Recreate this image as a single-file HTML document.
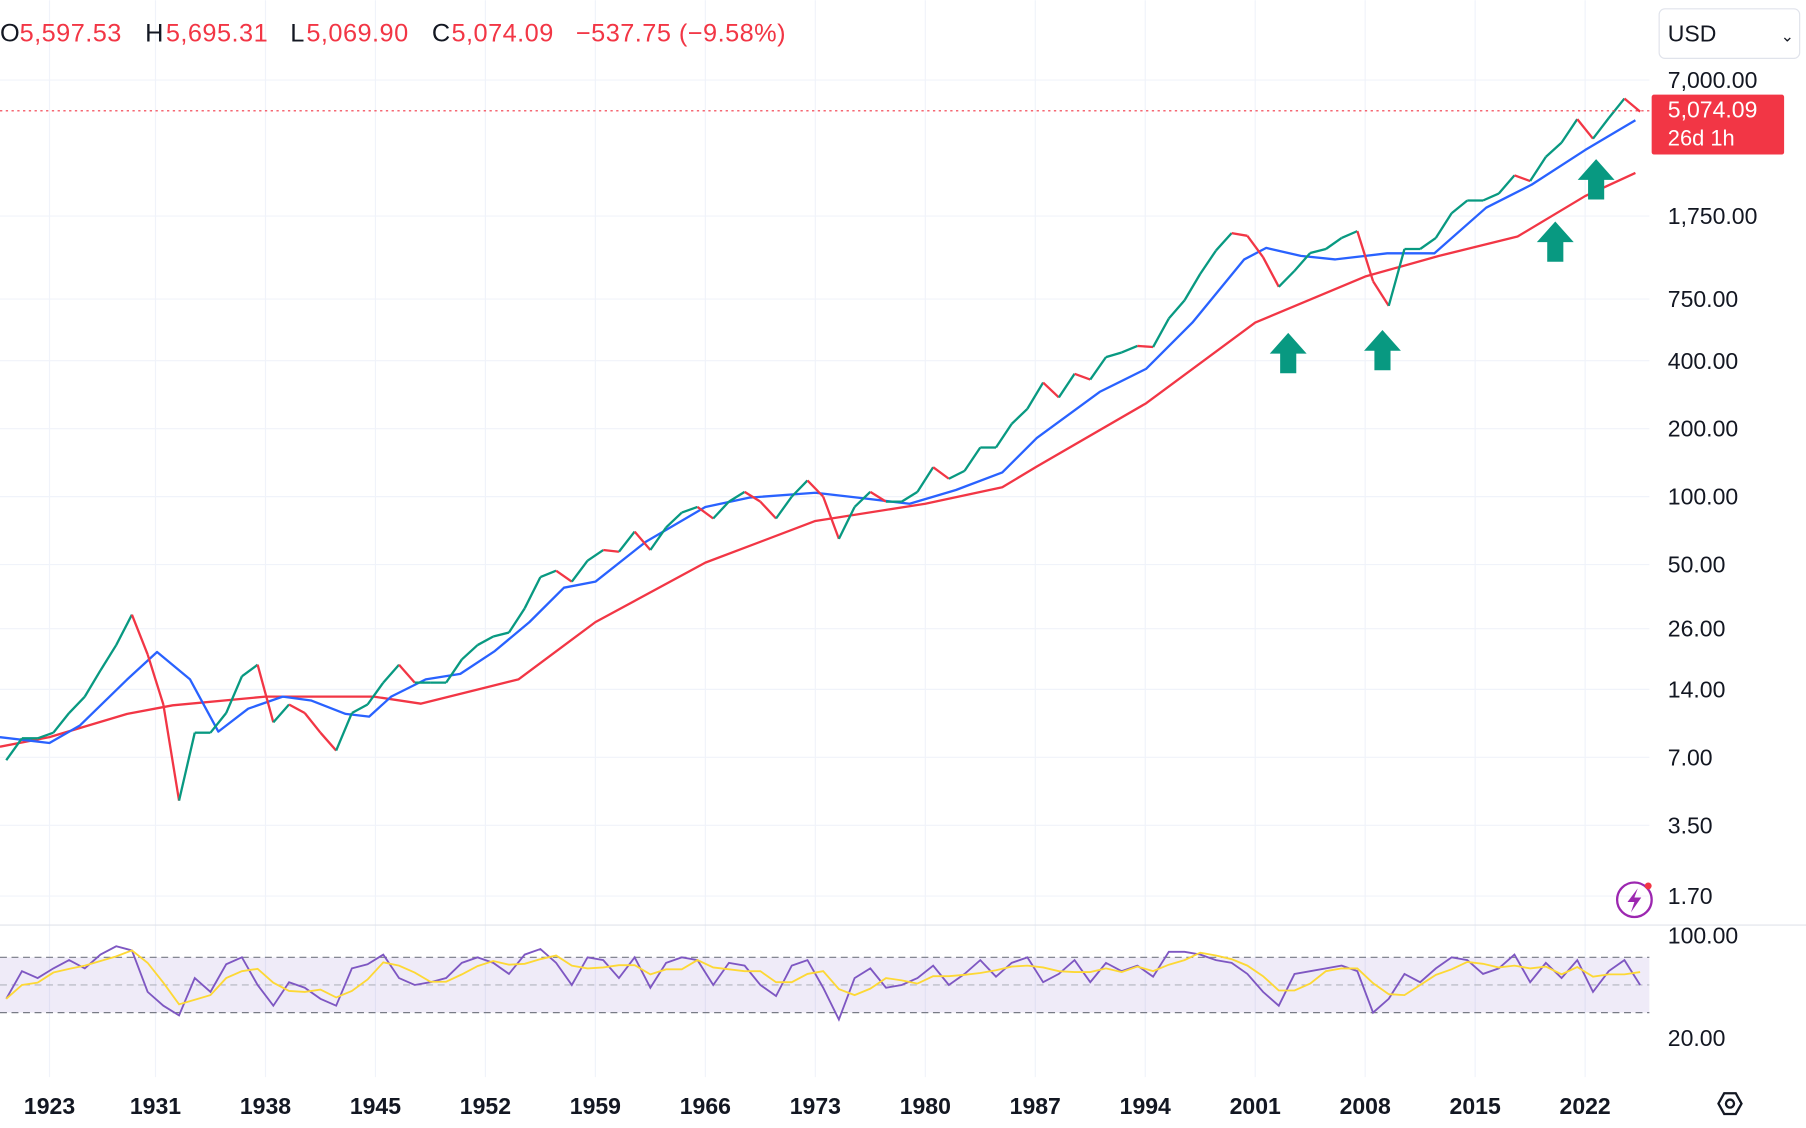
<!DOCTYPE html>
<html><head><meta charset="utf-8"><style>
html,body{margin:0;padding:0;background:#fff;overflow:hidden}
svg{display:block;font-family:"Liberation Sans",sans-serif}
</style></head><body>
<svg id="chart" width="1806" height="1128" viewBox="0 0 1568 979" xmlns="http://www.w3.org/2000/svg">
<rect width="1568" height="979" fill="#fff"/>
<g id="grid"></g>
<line x1="0" y1="803" x2="1568" y2="803" stroke="#e0e3eb" stroke-width="1"/>
<rect x="0" y="831" width="1432" height="48" fill="#7e57c2" fill-opacity="0.12"/>
<line x1="0" y1="831" x2="1432" y2="831" stroke="#787b86" stroke-dasharray="6,4"/>
<line x1="0" y1="855" x2="1432" y2="855" stroke="#b2b5be" stroke-dasharray="6,4"/>
<line x1="0" y1="879" x2="1432" y2="879" stroke="#787b86" stroke-dasharray="6,4"/>
<g id="series"></g>
<line x1="0" y1="96" x2="1432" y2="96" stroke="#f23645" stroke-dasharray="2,3"/>
<g id="labels"></g>
<g font-size="22" letter-spacing="0.4">
<text x="0" y="36" fill="#131722">O</text><text x="17" y="36" fill="#f23645">5,597.53</text>
<text x="126" y="36" fill="#131722">H</text><text x="144" y="36" fill="#f23645">5,695.31</text>
<text x="252" y="36" fill="#131722">L</text><text x="266" y="36" fill="#f23645">5,069.90</text>
<text x="375" y="36" fill="#131722">C</text><text x="392" y="36" fill="#f23645">5,074.09</text>
<text x="500" y="36" fill="#f23645">−537.75 (−9.58%)</text>
</g>
<g><rect x="1440.5" y="7.5" width="122" height="43" rx="5" fill="#fff" stroke="#e0e3eb"/><text x="1448" y="36" font-size="20" fill="#131722">USD</text><text x="1546" y="36" font-size="14" fill="#131722">⌄</text></g>
<g><rect x="1434" y="82" width="115" height="52" rx="2" fill="#f23645"/><text x="1448" y="102" font-size="20" fill="#fff">5,074.09</text><text x="1448" y="126" font-size="19" fill="#fff">26d 1h</text></g>
<g><circle cx="1419" cy="781" r="15" fill="none" stroke="#9c27b0" stroke-width="2"/><path d="M1422 771 L1413 783 L1419 783 L1416 792 L1425 779 L1419 779 Z" fill="#9c27b0"/><circle cx="1431" cy="769" r="3" fill="#f23645"/></g>
<g><polygon points="1492,958 1497,949 1507,949 1512,958 1507,967 1497,967" fill="none" stroke="#131722" stroke-width="2"/><circle cx="1502" cy="958" r="3.5" fill="none" stroke="#131722" stroke-width="2"/></g>
</svg>
<script>
const years = [];
for (let y = 1921; y <= 2025; y++) years.push(y);
const closes = [6.8,8.5,8.5,9,11,13,17,22,30,20,12,4.5,9,9,11,16,18,10,12,11,9,7.5,11,12,15,18,15,15,15,19,22,24,25,32,44,47,42,52,58,57,70,58,73,85,90,80,95,105,95,80,100,118,100,65,90,105,95,95,105,135,120,130,165,165,210,245,320,275,350,330,415,435,465,460,615,740,970,1230,1470,1430,1150,850,1000,1200,1250,1400,1500,900,700,1250,1250,1400,1800,2050,2050,2200,2650,2500,3200,3700,4700,3850,4750,5800,5074];
const fastMaYears = [1921.1,1924.25,1926.2,1929.2,1931.1,1933.2,1935.0,1936.9,1939.1,1940.9,1943.1,1944.6,1946.0,1948.2,1950.4,1952.6,1954.8,1957.0,1959.0,1962.2,1966.0,1968.8,1973.0,1975.7,1979.0,1981.95,1984.9,1987.1,1991.1,1994.05,1997.0,2000.3,2001.7,2003.9,2006.1,2009.4,2012.4,2015.7,2018.6,2022.0,2025.2];
const fastMa = [8.6,8.1,9.7,15.5,20.5,15.5,9.1,11.5,13,12.5,10.9,10.6,13,15.5,16.4,20.7,27.8,39.5,42,63,90,99,104,99,93,107,128,182,291,368,590,1124,1264,1165,1124,1196,1196,1905,2410,3430,4650];
const slowMaYears = [1921.1,1924.25,1929.2,1932.1,1938.0,1944.9,1947.9,1951.9,1954.1,1959.0,1966.0,1973.0,1980.0,1984.9,1987.1,1994.05,2001.0,2008.0,2012.7,2017.7,2022.0,2025.2];
const slowMa = [7.8,8.6,10.9,11.9,13,13,12.1,14.2,15.5,27.8,51,78,93,110,136,259,590,944,1165,1420,2145,2715];
const rsi = [40,60,55,62,68,62,72,78,75,45,35,28,55,45,65,70,50,35,52,48,40,35,62,65,72,55,50,52,55,66,70,66,58,72,76,66,50,70,68,55,70,48,66,70,68,50,66,64,50,42,64,68,48,25,55,62,48,50,55,64,50,58,68,56,66,70,52,58,68,52,66,60,64,56,74,74,72,68,66,58,45,35,58,60,62,64,60,30,40,58,52,62,70,68,58,62,72,52,66,55,68,45,60,68,50];
const priceTicks = [7000,1750,750,400,200,100,50,26,14,7,3.5,1.7];
const priceTickLabels = ["7,000.00","1,750.00","750.00","400.00","200.00","100.00","50.00","26.00","14.00","7.00","3.50","1.70"];
const yearTicks = [1923,1931,1938,1945,1952,1959,1966,1973,1980,1987,1994,2001,2008,2015,2022];
const rsiTickLabels = ["100.00","20.00"];
const arrowYears = [2003.1,2009.1,2020.1,2022.7];
const arrowPrices = [430,443,1340,2530];

const NS = "http://www.w3.org/2000/svg";
const xOf = yr => 135 + (yr - 1931) * 13.64;
const yOf = v => 431 - 59 * Math.log2(v / 100);
const rOf = v => 831 + (70 - v) * 1.2;
function mk(tag, attrs, parent) { const e = document.createElementNS(NS, tag); for (const k in attrs) e.setAttribute(k, attrs[k]); parent.appendChild(e); return e; }
const grid = document.getElementById('grid'), series = document.getElementById('series'), labels = document.getElementById('labels');

priceTicks.forEach((v, i) => {
  const g = mk('line', {x1:0, x2:1432, y1:yOf(v), y2:yOf(v), stroke:'#f0f3fa'}, grid);
  
  
  const t = mk('text', {x:1448, y:yOf(v) + 7, 'font-size':20, fill:'#131722'}, labels);
  t.textContent = priceTickLabels[i];
  
  
});
yearTicks.forEach(yr => {
  const x = yr === 1923 ? 43 : xOf(yr);
  const g = mk('line', {x1:x, x2:x, y1:0, y2:935, stroke:'#f0f3fa'}, grid);
  
  
  const t = mk('text', {x:x, y:967, 'font-size':20, 'font-weight':'bold', fill:'#131722', 'text-anchor':'middle'}, labels);
  t.textContent = yr;
  
  
});
[[812,0],[901,1]].forEach(([y, i]) => {
  const t = mk('text', {x:1448, y:y + 7, 'font-size':20, fill:'#131722'}, labels);
  t.textContent = rsiTickLabels[i];
  
  
});

function poly(xs, vs, color, name) {
  const p = mk('polyline', {points: xs.map((x, i) => xOf(x) + ',' + yOf(vs[i])).join(' '), fill:'none', stroke:color, 'stroke-width':2, 'stroke-linejoin':'round'}, series);
  
  
}
poly(slowMaYears, slowMa, '#f23645', 'slow-moving-average');
poly(fastMaYears, fastMa, '#2962ff', 'fast-moving-average');

for (let i = 1; i < closes.length; i++) {
  const up = closes[i] >= closes[i - 1];
  const s = mk('line', {x1:xOf(years[i - 1] + 0.5), y1:yOf(closes[i - 1]), x2:xOf(years[i] + 0.5), y2:yOf(closes[i]), stroke: up ? '#089981' : '#f23645', 'stroke-width':2}, series);
  
  
}

const rp = mk('polyline', {points: rsi.map((v, i) => xOf(years[i] + 0.5) + ',' + rOf(v)).join(' '), fill:'none', stroke:'#7e57c2', 'stroke-width':1.6}, series);


const sm = rsi.map((v, i) => { const a = rsi.slice(Math.max(0, i - 2), i + 1); return a.reduce((s, x) => s + x, 0) / a.length; });
const sp = mk('polyline', {points: sm.map((v, i) => xOf(years[i] + 0.5) + ',' + rOf(v)).join(' '), fill:'none', stroke:'#fdd835', 'stroke-width':1.6}, series);



arrowYears.forEach((yr, i) => {
  const x = xOf(yr), y = yOf(arrowPrices[i]);
  const a = mk('path', {d:`M${x} ${y - 18} L${x + 16} ${y} L${x + 7} ${y} L${x + 7} ${y + 17} L${x - 7} ${y + 17} L${x - 7} ${y} L${x - 16} ${y} Z`, fill:'#089981'}, series);
  
  
});
</script>
</body></html>
